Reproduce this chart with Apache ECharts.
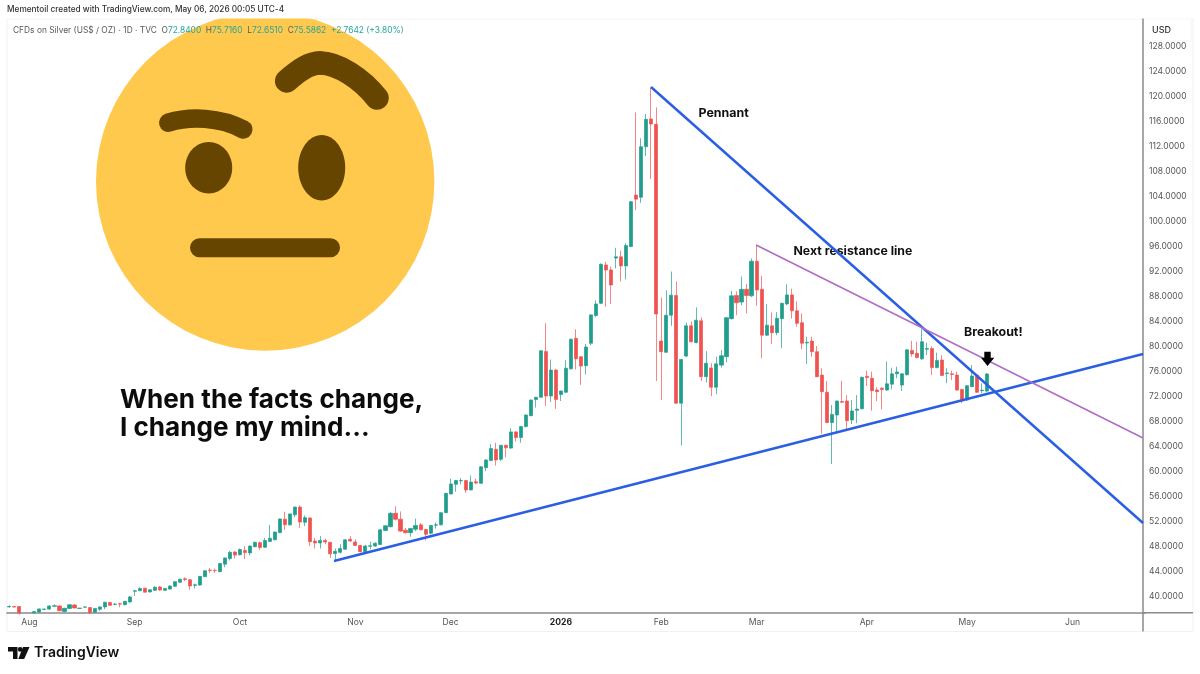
<!DOCTYPE html>
<html><head><meta charset="utf-8">
<style>html,body{margin:0;padding:0;background:#fff}#c{width:1200px;height:674px}</style>
<script src="https://cdn.jsdelivr.net/npm/echarts@6/dist/echarts.min.js"></script>
</head><body><div id="c"></div>
<script>
const opens=[38.25,38.3,38.3,37,36.9,37.3,37.45,37.85,37.9,38.35,
38.4,37.5,38,38.55,38,38.2,38.15,37.4,37.87,38.25,
38.95,38.66,38.75,38.6,39.05,40.75,40.85,41.25,40.65,40.9,
41.45,40.9,41.1,41.55,42.2,42.75,42.6,41.7,41.75,43.1,
44.15,44.1,43.9,45.1,46,47.05,46.6,47.3,46.9,47.9,
48.55,47.8,48.75,49,50.15,52.3,51.4,53,54.25,51.8,
52.5,48.8,48.5,48.9,48.6,46.8,47,47.5,49.1,48.65,
48.1,47.1,47.95,48,48.25,50.5,51.1,53.25,52.3,50.55,
50.15,50.7,51.4,50.65,50.05,51.35,51.4,53.35,56.35,57.9,
58.45,58.5,57,58.3,58.05,60.55,61.7,63.5,61.9,64.15,
63.7,66.3,65.4,67.15,68.9,71.5,71.85,79.2,72.05,76.2,
72.3,72.65,76.4,81.3,78.35,76.9,80.5,84.95,86.9,93.05,
92.25,94.15,94.35,92.9,96,104.25,103.9,112,116.45,115.6,
80.85,79.05,85,88.15,70.9,78.45,83.3,80.6,84.1,75.15,
76.55,73.45,77,78.35,84.45,88.15,87.1,89.15,88.1,93.65,
89.15,81.8,83.3,82.2,84.45,86.8,88.25,85.7,83.8,80.55,
80.85,79.15,75.4,72.65,67.8,69,71.15,71.25,68.2,69.75,
70,75.2,74.9,73,73.3,73,73.95,75.6,73.8,75.45,
79.35,78.9,78,79.55,79.65,76.6,77.8,75.65,75.6,75.4,
73.1,71.4,73.55,75.4,72.9,72.84];
const closes=[38.32,38.22,37.3,36.8,37.2,37.5,37.92,37.9,38.4,38.45,
37.65,38.03,38.6,38.08,38.05,38.25,37.35,38,38.25,39,
38.5,38.7,38.7,39.15,39.85,40.85,41.2,40.6,41,41.4,
40.95,41.2,41.6,42.3,42.7,42.65,41.6,41.8,43.15,44.05,
44.1,44.05,45.2,46.1,47,46.55,47.45,46.95,48,48.6,
47.75,48.9,49.25,50.25,52.35,51.4,53.15,54.25,51.85,52.55,
48.7,48.5,48.9,48.65,46.75,47.15,47.6,49,48.8,48.1,
47.1,48,48.05,48.45,50.6,51.25,53.25,52.3,50.4,50.15,
50.8,51.3,50.6,49.9,51.3,51.4,53.35,56.45,57.95,58.5,
58.5,57,58.25,58.1,60.7,61.8,63.65,61.8,64.15,63.75,
66.3,65.4,67.15,69,71.4,71.85,79.3,72.05,76.2,71.5,
72.85,76.5,81.15,78,76.85,79.9,85.05,86.8,93.15,92.25,
89.85,94.35,92.9,96.15,103.2,103.6,112,116.4,115.65,85.2,
79.15,85,88.2,70.9,77.9,83.3,80.75,84.2,75.15,77.3,
73.45,77.2,78.5,84.6,88.1,87,89.15,88.15,93.65,89.05,
81.8,83.4,82.2,84.5,86.9,88.25,85.7,83.7,80.5,80.65,
79.15,75.15,72.75,67.8,69.1,71.25,71.05,68.1,69.65,69.95,
75.05,75,72.9,72.75,73.1,74,75.6,75.9,75.6,79.45,
78.8,78.2,80.75,79.65,76.6,77.75,75.35,75.75,75.5,73,
71.25,73.7,75.25,72.65,73,75.59];
const lows=[38.15,38.2,37,36.6,36.8,37.2,37.3,37.8,37.8,38.3,
37.55,37.4,37.95,38,37.95,38.15,37.1,37.3,37.6,37.9,
38.45,38.5,38.2,38.5,38.9,40,40.75,40.55,40.55,40.8,
40.85,40.85,41.05,41.5,42.1,42.4,41,41.2,41.65,43.05,
43.7,43.7,43.8,44.6,45.7,46,46.5,45.9,46.5,47.8,
47.4,47.7,48.7,48.9,50.1,50.6,51.3,52.6,50.9,51.2,
48,47.6,47.6,48.3,46.1,45.6,46.8,47.4,48.7,48,
47,47,47.5,47.9,48.15,50.4,51,52.1,50.3,50,
49.5,50.4,50.5,48.9,49.9,50.8,51.3,53.3,56.3,56.7,
57.9,56.55,56.9,57.9,58,60,61.6,60.9,61.6,62.2,
63.6,64.75,64.55,67,68.8,70.2,71.75,70.45,71.1,70,
71.25,72.5,76.3,76.3,73.85,75.5,80.2,84.7,86.8,86.35,
86.8,92.5,90.4,90.75,95.9,101.85,103,110.5,106.8,74.45,
71.4,79,83.3,70.8,64.1,78.3,80.6,80.5,74.45,74.2,
72,72.35,76.6,77.45,84.3,85,86.6,85.3,87.9,86.5,
78.1,81.7,80.4,81.8,79.7,86.6,84.45,83.15,79.5,77.2,
78.35,75.05,66,67.7,61.15,66.35,70.95,66.6,67.55,67.7,
69.9,73.65,69.7,71.25,69.9,72.9,73.1,74.9,72.85,75.35,
78.35,78.1,77.8,78.6,75.4,76.5,75.25,74.1,74.6,72.9,
70.9,71.3,73.45,72.55,72.5,72.65];
const highs=[38.5,38.4,38.4,37.2,37.3,37.6,38,38,38.5,38.65,
38.5,38.1,38.65,38.7,38.1,38.3,38.2,38.05,38.3,39.05,
39.05,38.85,38.85,39.2,40,40.95,41.4,41.3,41.05,41.6,
41.55,41.25,41.7,42.4,42.75,43,42.7,42,43.2,44.1,
44.5,44.4,45.3,46.15,47.2,47.15,47.6,48,48.1,48.7,
48.75,49.3,51.4,50.3,52.4,53.5,53.2,54.3,54.5,52.9,
52.6,49.3,49.6,49.15,48.7,47.6,48.3,49.1,49.6,49.1,
48.2,48.2,48.7,48.6,50.7,51.3,53.5,54.4,53.55,50.9,
50.9,52.4,51.7,50.75,51.4,51.75,53.4,56.5,58.8,58.6,
58.9,58.6,59.3,58.8,60.8,61.9,64.35,64.55,64.2,64.25,
66.9,66.4,67.25,69.1,71.5,71.9,79.4,83.7,77.9,76.4,
72.9,77.8,81.25,82.75,78.45,80.4,85.15,87.4,93.3,93.55,
92.8,95.8,95.35,96.5,103.3,117.5,113.35,117.25,121.5,118.3,
87.8,89,92,90.4,78,83.8,84,86.25,84.65,79.25,
77.3,78.35,79.4,84.7,88.9,88.8,91.2,90,94.1,96.3,
91.3,86.8,85.45,85.5,87,89.95,89.25,87.2,85.3,81.55,
81.55,80.05,76.5,74.45,70.6,71.3,74.5,72.2,71.4,72.2,
75.15,76.1,75.95,73.45,73.45,77.6,76.6,76.75,75.7,79.5,
80.9,80.75,82.75,80.6,80,79,78.6,76.5,76.1,75.95,
73.2,73.8,77,75.5,74.1,75.72];

const slotCount=227;
const monthLabels=['Aug','Sep','Oct','Nov','Dec','2026','Feb','Mar','Apr','May','Jun'];
const monthSlots=[4,25,46,69,88,110,130,149,171,191,212];
const priceTicks=[40,44,48,52,56,60,64,68,72,76,80,84,88,92,96,100,104,108,112,116,120,124,128];
const supportLine=[[64.74,45.61],[226.06,78.78]];
const pennantLine=[[127.95,121.57],[226.06,51.7]];
const resistanceLine=[[148.9,96.25],[226.06,65.32]];

const FONT='Inter, "Noto Sans", sans-serif';
const UP='#1f9e8c', DOWN='#ef5350', BLUE='#2b5fe3', PURPLE='#b26cc6', FACE='#FFC94D', BROW='#664500', AXIS='#8a8a8a', TXT='#555555', TEAL='#26a69a';

const slots=Array.from({length:slotCount},(_,i)=>String(i));
const candleData=opens.map((o,i)=>[o,closes[i],lows[i],highs[i]]);

const chart=echarts.init(document.getElementById('c'),null,{renderer:'canvas'});
function rect(x,y,w,h,fill,r){return {type:'rect',shape:{x,y,width:w,height:h,r:r||0},style:{fill},silent:true};}
function ln(x1,y1,x2,y2,stroke,w){return {type:'line',shape:{x1,y1,x2,y2},style:{stroke,lineWidth:w||1},silent:true};}
function label(x,y,text,size,weight,fill){return {type:'text',x,y,style:{text,font:weight+' '+size+'px '+FONT,fill,verticalAlign:'middle'},silent:true};}
function curve(x1,y1,cx1,cy1,cx2,cy2,x2,y2,w){return {type:'bezierCurve',shape:{x1,y1,cpx1:cx1,cpy1:cy1,cpx2:cx2,cpy2:cy2,x2,y2},style:{fill:'none',stroke:BROW,lineWidth:w,lineCap:'round'},silent:true};}
function poly(points,fill){return {type:'polygon',shape:{points},style:{fill},silent:true};}

const graphic=[
  // frame
  ln(7,19,1193,19,'#f1f1f1'),ln(7,19,7,631.5,'#f1f1f1'),ln(7,631.5,1193,631.5,'#f1f1f1'),ln(1193,19,1193,631.5,'#f1f1f1'),
  // emoji
  {type:'circle',shape:{cx:265.2,cy:181.5,r:169.2},style:{fill:FACE},silent:true},
  rect(0,0,1200,18.5,'#fff'),
  {type:'ellipse',shape:{cx:208.7,cy:167.7,rx:23.5,ry:25.7},style:{fill:BROW},silent:true},
  {type:'ellipse',shape:{cx:321.7,cy:167.7,rx:23.5,ry:32.7},style:{fill:BROW},silent:true},
  rect(190,238.3,150,19,BROW,9.5),
  curve(168.3,122.7,190,116,220,117,243.3,129.5,18.5),
  curve(286.7,81,300,69,310,63,320,63,23.5),
  curve(320,63,338,63,362,79,377,98,23.5),
  // header
  label(7,10,'Mementoil created with TradingView.com, May 06, 2026 00:05 UTC-4',8.25,500,'#333'),
  {type:'text',x:13,y:30,silent:true,style:{
    text:'{g|CFDs on Silver (US$ / OZ) · 1D · TVC  O}{t|72.8400}{g|  H}{t|75.7160}{g|  L}{t|72.6510}{g|  C}{t|75.5862}{t|  +2.7642 (+3.80%)}',
    verticalAlign:'middle',font:'400 8.4px '+FONT,
    rich:{g:{fill:'#5a5a5a',font:'400 8.4px '+FONT},t:{fill:TEAL,font:'400 8.4px '+FONT}}}},
  // USD box & axis stub
  ln(1143,612.7,1193,612.7,AXIS,1.5),ln(1143,612.7,1143,631.5,AXIS,1.5),
  rect(1145,19.5,46,21,'#fff'),ln(1145,41,1191,41,'#f4f4f4'),ln(1191,20,1191,41,'#f4f4f4'),
  label(1152,30,'USD',9,500,'#333'),
  // annotations
  label(120,400,'When the facts change,',26.1,700,'#0c0c0c'),
  label(120,428,'I change my mind...',26.1,700,'#0c0c0c'),
  label(698.5,113,'Pennant',12.4,700,'#111'),
  label(793.5,251,'Next resistance line',12.3,700,'#111'),
  label(964,332,'Breakout!',12.4,700,'#111'),
  Object.assign(poly([[984.3,351.7],[990.7,351.7],[990.7,357.7],[994.3,357.7],[987.5,366],[981,357.7],[984.3,357.7]],'#000'),{z:50}),
  // logo
  poly([[8,647],[17.5,647],[17.5,659],[13,659],[13,651.6],[8,651.6]],'#111'),
  poly([[23,647],[29.5,647],[24.2,659],[18.3,659]],'#111'),
  {type:'circle',shape:{cx:20.2,cy:649.4,r:2.4},style:{fill:'#111'},silent:true},
  label(34,653,'TradingView',14,600,'#111'),
];

function trend(data,color,width){return {type:'line',xAxisIndex:1,yAxisIndex:0,data,showSymbol:false,symbol:'none',silent:true,z:10,clip:true,lineStyle:{color,width},animation:false};}

chart.setOption({
  animation:false,
  backgroundColor:'#fff',
  textStyle:{fontFamily:FONT},
  grid:{left:6.82,width:1138.4,top:19,height:593.7,containLabel:false},
  xAxis:[{
    type:'category',data:slots,boundaryGap:true,
    axisLine:{show:true,lineStyle:{color:AXIS,width:1.5}},axisTick:{show:false},splitLine:{show:false},
    axisLabel:{
      interval:(i)=>monthSlots.includes(i),
      margin:5.5,fontSize:8.6,color:TXT,fontFamily:FONT,hideOverlap:false,
      formatter:(v)=>{const k=monthSlots.indexOf(Number(v));if(k<0)return '';const t=monthLabels[k];return t==='2026'?'{b|'+t+'}':t;},
      rich:{b:{fontWeight:700,fontSize:8.6,color:'#222',fontFamily:FONT}}
    }
  },{type:'value',show:false,min:-0.5,max:slotCount-0.5,splitLine:{show:false}}],
  yAxis:[{
    type:'value',position:'right',offset:-2.2,min:37.32,max:132.47,scale:true,
    axisLine:{show:true,onZero:false,lineStyle:{color:AXIS,width:1.5}},axisTick:{show:false},splitLine:{show:false},
    axisLabel:{customValues:priceTicks,margin:6,fontSize:8.5,color:TXT,fontFamily:FONT,formatter:(v)=>Number(v).toFixed(4)}
  }],
  series:[
    {type:'candlestick',xAxisIndex:0,yAxisIndex:0,data:candleData,barWidth:3.6,z:5,silent:true,clip:true,
      itemStyle:{color:UP,color0:DOWN,borderColor:UP,borderColor0:DOWN,borderWidth:0.7}},
    trend(supportLine,BLUE,2.5),
    trend(pennantLine,BLUE,2.5),
    trend(resistanceLine,PURPLE,1.6),
  ],
  graphic:{elements:graphic}
});
</script></body></html>
